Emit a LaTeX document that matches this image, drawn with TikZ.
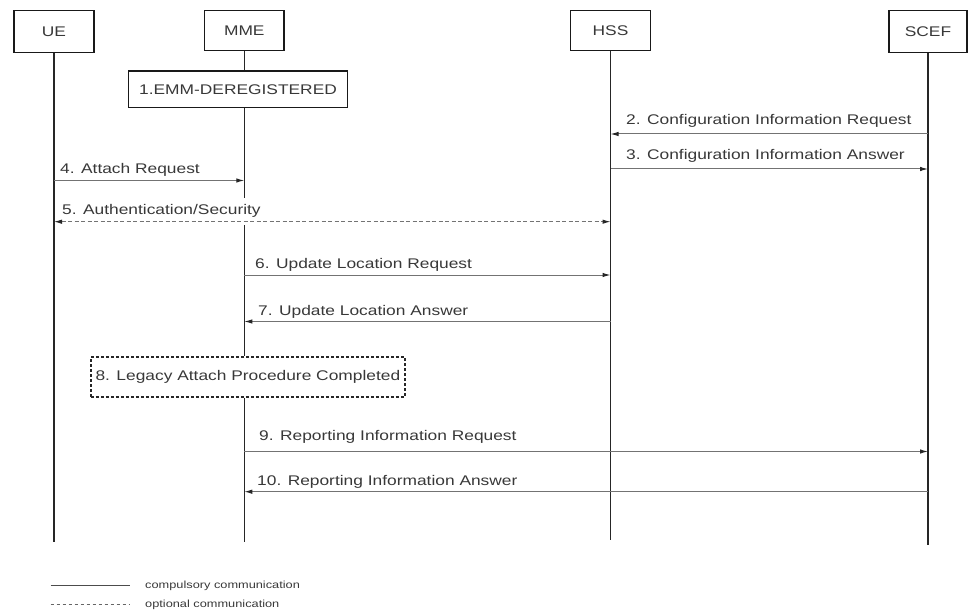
\documentclass[tikz,border=0pt]{standalone}
\usepackage{fontspec}
\setmainfont[FakeStretch=1.24]{Liberation Sans}
\usetikzlibrary{arrows.meta}

\begin{document}
\begin{tikzpicture}[x=1pt,y=-1pt,
  every node/.style={font=\fontsize{14}{16}\selectfont, text=black!78},
  entity/.style={draw=black!90, line width=1.4pt, fill=white, inner sep=0pt},
  statebox/.style={entity},
  optbox/.style={draw=black!85, line width=1.3pt, dash pattern=on 3pt off 2pt, inner sep=0pt},
  lifeline/.style={draw=black!85, line width=1.5pt},
  tip/.style={},
  msg/.style={draw=black!55, line width=1pt, -{Latex[length=8pt,width=4.5pt,color=black!85]}},
  optmsg/.style={draw=black!55, line width=1pt, dash pattern=on 4pt off 2.5pt,
    {Latex[length=8pt,width=4.5pt,color=black!85]}-{Latex[length=8pt,width=4.5pt,color=black!85]}},
  lbl/.style={anchor=base west, inner sep=0pt},
  legendtext/.style={anchor=west, inner sep=0pt, font=\fontsize{10.3}{12}\selectfont},
]
\useasboundingbox (0,0) rectangle (968,612);

% participants
\node[entity, minimum width=80pt, minimum height=41.6pt] (ue)   at (54,31.5)    {UE};
\node[entity, minimum width=79.5pt, minimum height=40pt] (mme)  at (244.3,30.7) {MME};
\node[entity, minimum width=80pt, minimum height=40pt]   (hss)  at (610.5,30.8) {HSS};
\node[entity, minimum width=78pt, minimum height=41.6pt] (scef) at (928,31.5)   {SCEF};

% MME state boxes
\node[statebox, minimum width=219.4pt, minimum height=36.3pt] (emm) at (238,89.2) {1.EMM-DEREGISTERED};
\node[optbox, minimum width=314pt, minimum height=40pt] (legacy) at (247.9,377) {8. Legacy Attach Procedure Completed};

% lifeline ends
\coordinate (ueEnd)   at (54,541.7);
\coordinate (mmeEnd)  at (244.3,541.7);
\coordinate (hssEnd)  at (610.5,540);
\coordinate (scefEnd) at (928,545);
\coordinate (mmeGapA) at (244.3,198);
\coordinate (mmeGapB) at (244.3,225);

% lifelines
\draw[lifeline] (ue.south) -- (ueEnd);
\draw[lifeline] (mme.south) -- (emm.north -| mme);
\draw[lifeline] (emm.south -| mme) -- (mmeGapA);
\draw[lifeline] (mmeGapB) -- (legacy.north -| mme);
\draw[lifeline] (legacy.south -| mme) -- (mmeEnd);
\draw[lifeline] (hss.south) -- (hssEnd);
\draw[lifeline] (scef.south) -- (scefEnd);

% message anchor points on the lifelines
\coordinate (m2a) at (928,134);    \coordinate (m2b) at (610.5,134);
\coordinate (m3a) at (610.5,169);  \coordinate (m3b) at (928,169);
\coordinate (m4a) at (54,180.5);   \coordinate (m4b) at (244.3,180.5);
\coordinate (m5a) at (54,221.7);   \coordinate (m5b) at (610.5,221.7);
\coordinate (m6a) at (244.3,275);  \coordinate (m6b) at (610.5,275);
\coordinate (m7a) at (610.5,321.5);\coordinate (m7b) at (244.3,321.5);
\coordinate (m9a) at (244.3,451.5);\coordinate (m9b) at (928,451.5);
\coordinate (m10a) at (928,491.7); \coordinate (m10b) at (244.3,491.7);

% messages
\draw[msg] (m2a) -- (m2b);
\draw[msg] (m3a) -- (m3b);
\draw[msg] (m4a) -- (m4b);
\draw[optmsg] (m5a) -- (m5b);
\draw[msg] (m6a) -- (m6b);
\draw[msg] (m7a) -- (m7b);
\draw[msg] (m9a) -- (m9b);
\draw[msg] (m10a) -- (m10b);

% message labels
\node[lbl] (l2)  at (626,125)   {2. Configuration Information Request};
\node[lbl] (l3)  at (626,159.3) {3. Configuration Information Answer};
\node[lbl] (l4)  at (60,174)    {4. Attach Request};
\node[lbl] (l5)  at (62,214.5)  {5. Authentication/Security};
\node[lbl] (l6)  at (255,268.5) {6. Update Location Request};
\node[lbl] (l7)  at (258,315.5) {7. Update Location Answer};
\node[lbl] (l9)  at (259,440)   {9. Reporting Information Request};
\node[lbl] (l10) at (257,485)   {10. Reporting Information Answer};

% legend
\coordinate (lgA1) at (50.5,585);  \coordinate (lgB1) at (129.5,585);
\coordinate (lgA2) at (50.5,604);  \coordinate (lgB2) at (129.5,604);
\draw[draw=black!70, line width=1pt] (lgA1) -- (lgB1);
\draw[draw=black!60, line width=1pt, dash pattern=on 3.5pt off 2.5pt] (lgA2) -- (lgB2);
\node[legendtext] (lgT1) at (145,585.5) {compulsory communication};
\node[legendtext] (lgT2) at (145,604.5) {optional communication};
\end{tikzpicture}
\end{document}
